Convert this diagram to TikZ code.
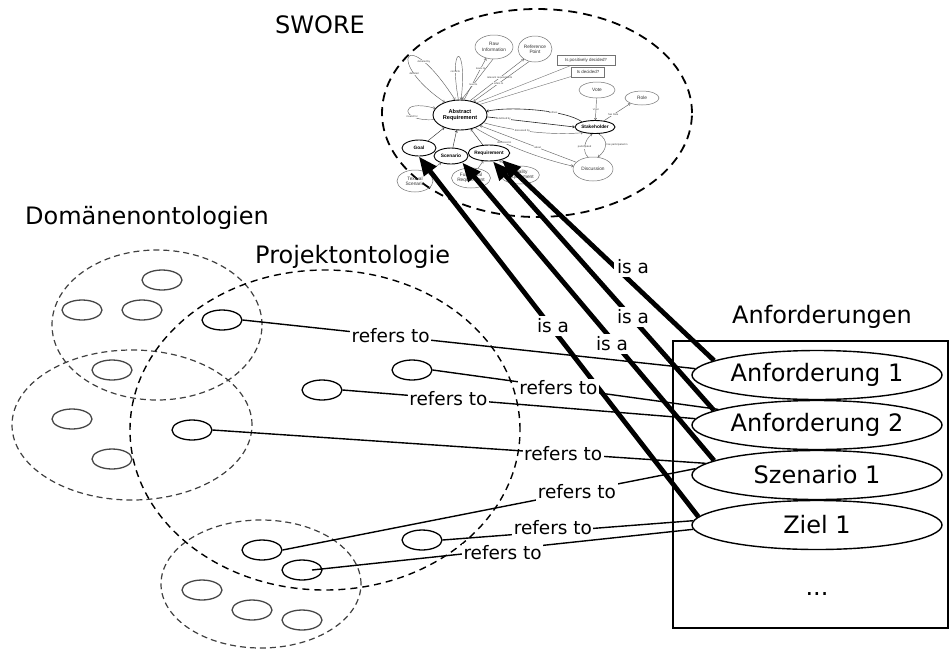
\documentclass[tikz,border=0pt]{standalone}
\usepackage{fontspec}
\setmainfont{DejaVu Sans}
\newfontfamily\swf{Liberation Sans}
\usetikzlibrary{shapes.geometric,arrows.meta}
\begin{document}
\begin{tikzpicture}[x=1pt,y=-1pt,
  big/.style={font=\fontsize{24}{28}\selectfont, inner sep=0pt},
  lab/.style={font=\fontsize{18.5}{22}\selectfont, fill=white, inner sep=1.5pt},
  isalab/.style={font=\fontsize{18.5}{22}\selectfont, fill=white, inner sep=3pt},
  reqnode/.style={ellipse, draw, line width=1.4pt, fill=white, minimum width=250pt, minimum height=49pt, inner sep=0pt, font=\fontsize{24}{28}\selectfont},
  domcirc/.style={draw=black!75, dash pattern=on 6pt off 4pt, line width=1.2pt},
  projcirc/.style={draw=black, dash pattern=on 7pt off 5pt, line width=1.4pt},
  swcirc/.style={draw=black, dash pattern=on 9pt off 6pt, line width=1.8pt},
  sm/.style={ellipse, draw=black, line width=1.3pt, minimum width=40pt, minimum height=20pt, inner sep=0pt},
  smg/.style={sm, draw=black!72},
  refline/.style={line width=1.4pt},
  isa/.style={line width=4.8pt, -{Triangle[length=19pt,width=15pt]}},
  sw/.style={ellipse, draw=black!55, line width=0.5pt, inner sep=0pt, align=center, text=black!80, font=\swf\fontsize{4.8}{5.3}\selectfont},
  swb/.style={sw, draw=black, line width=0.9pt, text=black, font=\swf\bfseries\fontsize{4.8}{5.3}\selectfont},
  swbox/.style={rectangle, draw=black!55, line width=0.5pt, inner sep=1pt, minimum height=10pt, text=black!80, font=\swf\fontsize{4.4}{5}\selectfont},
  swe/.style={draw=black!60, line width=0.45pt, -{To[length=2.2pt,width=3pt]}},
  swl/.style={font=\swf\fontsize{2.6}{3}\selectfont, text=black!75, inner sep=0.3pt, fill=white}
]
\useasboundingbox (0,0) rectangle (950,649);
\fill[white] (0,0) rectangle (950,649);

% ---------- titles ----------
\node[big, anchor=base west] (tsw) at (275,33) {SWORE};
\node[big, anchor=base west] (tdom) at (25,224) {Domänenontologien};
\node[big, anchor=base west] (tproj) at (255,263) {Projektontologie};
\node[big, anchor=base west] (tanf) at (732,323) {Anforderungen};

% ---------- ontology regions ----------
\draw[domcirc] (157,325) ellipse [x radius=105pt, y radius=75pt];
\draw[domcirc] (132,425) ellipse [x radius=120pt, y radius=75pt];
\draw[domcirc] (261,584) ellipse [x radius=100pt, y radius=64pt];
\draw[projcirc] (325,430) ellipse [x radius=195pt, y radius=160pt];

% domain concepts (grey)
\node[smg] (g1) at (162,280) {};
\node[smg] (g2) at (82,310) {};
\node[smg] (g3) at (142,310) {};
\node[smg] (g4) at (112,370) {};
\node[smg] (g5) at (72,419) {};
\node[smg] (g6) at (112,459) {};
\node[smg] (g7) at (202,590) {};
\node[smg] (g8) at (252,610) {};
\node[smg] (g9) at (302,620) {};

% project concepts
\node[sm] (p1) at (222,320) {};
\node[sm] (p2) at (412,370) {};
\node[sm] (p3) at (322,390) {};
\node[sm] (p4) at (192,430) {};
\node[sm] (p5) at (262,550) {};
\node[sm] (p6) at (422,540) {};
\node[sm] (p7) at (302,570) {};

% ---------- SWORE ----------
\draw[swcirc] (537,113) ellipse [x radius=155pt, y radius=104pt];

\node[swb, minimum width=54pt, minimum height=30pt, font=\swf\bfseries\fontsize{5.6}{6.4}\selectfont] (ar) at (460,115) {Abstract\\Requirement};
\node[sw, minimum width=38pt, minimum height=24pt] (raw) at (494,47) {Raw\\Information};
\node[sw, minimum width=34pt, minimum height=26pt] (ref) at (535,49) {Reference\\Point};
\node[swbox, minimum width=58pt] (ipd) at (586,60) {Is positively decided?};
\node[swbox, minimum width=33pt] (isd) at (588,72) {Is decided?};
\node[sw, minimum width=36pt, minimum height=16pt] (vote) at (597,90) {Vote};
\node[sw, minimum width=34pt, minimum height=14pt] (role) at (642,98) {Role};
\node[swb, minimum width=40pt, minimum height=13pt] (sh) at (595,127) {Stakeholder};
\node[sw, minimum width=40pt, minimum height=24pt] (disc) at (593,169) {Discussion};
\node[swb, minimum width=34pt, minimum height=16pt] (goal) at (419,148) {Goal};
\node[swb, minimum width=34pt, minimum height=16pt] (scen) at (451,156) {Scenario};
\node[swb, minimum width=41pt, minimum height=16pt] (sreq) at (489,153) {Requirement};
\node[sw, minimum width=36pt, minimum height=22pt] (txs) at (415,181) {Textual\\Scenario};
\node[sw, minimum width=39pt, minimum height=20pt] (fr) at (471,178) {Functional\\Requirement};
\node[sw, minimum width=38pt, minimum height=18pt] (qr) at (520,175) {Quality\\Requirement};

\draw[swe, draw=black!80] (goal) -- (ar);
\draw[swe, draw=black!80] (scen) -- (ar);
\draw[swe, draw=black!80] (sreq) -- (ar);
\draw[swe] (txs) -- (scen);
\draw[swe] (fr) -- (sreq);
\draw[swe] (qr) -- (sreq);
\draw[{To[length=2.2pt,width=3pt]}-{To[length=2.2pt,width=3pt]}, draw=black!60, line width=0.45pt]
  (ar.140) .. controls (385,62) and (405,22) .. node[swl, pos=0.25]{detailed} node[swl, pos=0.75]{detailed by} (ar.108);
\draw[swe] (ar.96) .. controls (448,42) and (468,42) .. node[swl, pos=0.2]{conflicts} (ar.86);
\draw[swe] (ar.190) .. controls (400,122) and (398,98) .. node[swl, pos=0.3]{invalid for} (ar.165);
\draw[swe] (ar.75) -- node[swl, pos=0.75]{leads to} (raw.235);
\draw[swe] (raw.265) -- node[swl, pos=0.62]{lead to} (ar.84);
\draw[swe] (ar.55) -- node[swl, pos=0.55]{relevant requirements} (ref.222);
\draw[swe] (ref.245) -- node[swl, pos=0.55]{refers to} (ar.45);
\draw[draw=black!55, line width=0.4pt] (ar.36) -- (ipd.200);
\draw[draw=black!55, line width=0.4pt] (ar.28) -- (isd.195);
\draw[swe, draw=black!85, line width=0.6pt] (sh.158) .. controls (565,110) and (510,106) .. node[swl, pos=0.35]{defines} (ar.8);
\draw[swe, draw=black!85, line width=0.6pt] (ar.-4) -- node[swl, pos=0.2]{defined by} (sh.180);
\draw[swe] (ar.-18) .. controls (520,133) and (560,135) .. node[swl, pos=0.35]{discussed by} (sh.205);
\draw[swe] (ar.-40) .. controls (505,146) and (545,160) .. node[swl, pos=0.3]{discussed in} (disc.172);
\draw[swe] (disc.158) -- node[swl, pos=0.4]{about} (ar.-28);
\draw[swe] (vote) -- node[swl]{Voter} (sh);
\draw[swe] (sh.35) -- node[swl, pos=0.35]{has Role} (role.205);
\draw[swe] (disc.112) .. controls (582,152) and (584,140) .. node[swl, pos=0.45]{participated} (sh.248);
\draw[swe] (sh.-62) .. controls (609,140) and (607,150) .. node[swl, pos=0.5, right=0.5pt]{has participated in} (disc.68);

% ---------- Anforderungen ----------
\node[draw, line width=1.5pt, minimum width=275pt, minimum height=287pt, anchor=north west, inner sep=0pt] (box) at (672,340) {};
\node[reqnode] (a1) at (817,375) {Anforderung 1};
\node[reqnode] (a2) at (817,425) {Anforderung 2};
\node[reqnode] (s1) at (817,475) {Szenario 1};
\node[reqnode] (z1) at (817,525) {Ziel 1};
\node[big, anchor=base] (dots) at (817,595) {...};

% ---------- refers to ----------
\draw[refline] (p1.east) -- coordinate[pos=0.327] (r1) (a1.177.7);
\draw[refline] (p2.east) -- coordinate[pos=0.44] (r2) (a2.171.8);
\draw[refline] (p3.east) -- coordinate[pos=0.30] (r3) (a2.177.7);
\draw[refline] (p4.east) -- coordinate[pos=0.711] (r4) (s1.174);
\draw[refline] (p5.east) -- coordinate[pos=0.713] (r5) (s1.177.7);
\draw[refline] (p6.east) -- coordinate[pos=0.44] (r6) (z1.178.2);
\draw[refline] ([xshift=10pt]p7.center) -- coordinate[pos=0.50] (r7) (z1.182.7);

% ---------- is a ----------
\draw[isa] (a1.172) -- (sreq.-28);
\draw[isa] (a2.172) -- (sreq.-65);
\draw[isa] (s1.172) -- (scen.-30);
\draw[isa] (z1.176) -- (goal.-92);

\node[isalab] (i1) at (633,267) {is a};
\node[isalab] (i2) at (633,317) {is a};
\node[isalab] (i3) at (612,344) {is a};
\node[isalab] (i4) at (553,326) {is a};

\node[lab] (l1) at (r1) {refers to};
\node[lab] (l2) at (r2) {refers to};
\node[lab] (l3) at (r3) {refers to};
\node[lab] (l4) at (r4) {refers to};
\node[lab] (l5) at (r5) {refers to};
\node[lab, yshift=4pt] (l6) at (r6) {refers to};
\node[lab, yshift=-3pt] (l7) at (r7) {refers to};
\end{tikzpicture}
\end{document}
